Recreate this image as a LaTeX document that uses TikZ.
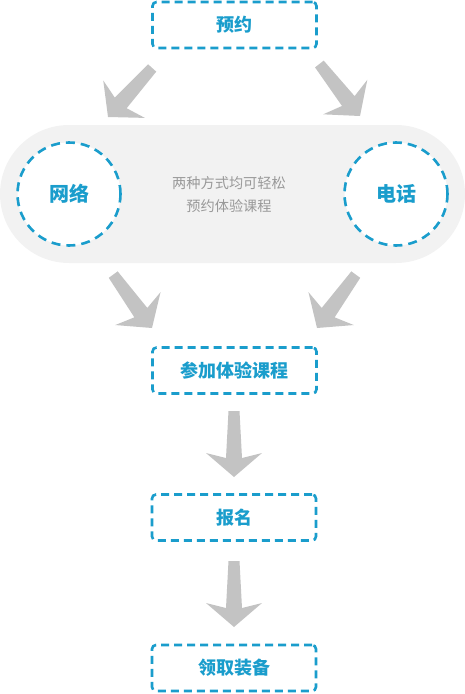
\documentclass[tikz,border=0pt]{standalone}
\usepackage{fontspec}
\newfontfamily\cjk{Noto Sans CJK SC}
\definecolor{flowblue}{HTML}{1A9DCC}
\definecolor{arrowgray}{HTML}{C3C3C3}
\definecolor{pillgray}{HTML}{F2F2F2}
\definecolor{notegray}{HTML}{999999}
\tikzset{
  stepbox/.style={draw=flowblue, line width=2.6pt, dash pattern=on 8pt off 5pt,
    rounded corners=4pt, minimum width=164pt, minimum height=46pt, fill=white,
    font=\cjk\bfseries\fontsize{18}{21}\selectfont, text=flowblue},
  waycircle/.style={circle, draw=flowblue, line width=2.6pt, dash pattern=on 9pt off 6pt,
    minimum size=103pt, fill=white, font=\cjk\bfseries\fontsize{20}{23}\selectfont, text=flowblue},
  bigarrow/.pic={\fill[arrowgray] (0,0) -- (28,-24) -- (8,-19) -- (5.5,-66) -- (-5.5,-66) -- (-8,-19) -- (-28,-24) -- cycle;}
}
\begin{document}
\begin{tikzpicture}[x=1pt,y=-1pt]
\useasboundingbox (0,0) rectangle (465,694);
\fill[pillgray, rounded corners=69pt] (0,125) rectangle (465,263);
\node[stepbox] (book) at (234.5,25) {预约};
\node[waycircle] (web) at (69,194) {网络};
\node[waycircle] (phone) at (396,194) {电话};
\node[font=\cjk\fontsize{14.2}{23}\selectfont, text=notegray, align=center] (note) at (229,194.5) {两种方式均可轻松\\预约体验课程};
\node[stepbox] (trial) at (234.5,370.5) {参加体验课程};
\node[stepbox] (signup) at (234,517.5) {报名};
\node[stepbox] (gear) at (234,668) {领取装备};
\pic[rotate=-42] at (108,117) {bigarrow};
\pic[rotate=38] at (360,116) {bigarrow};
\pic[rotate=36] at (152,328) {bigarrow};
\pic[rotate=-36] at (317,328) {bigarrow};
\pic at (234,477) {bigarrow};
\pic at (234,627) {bigarrow};
\end{tikzpicture}
\end{document}
